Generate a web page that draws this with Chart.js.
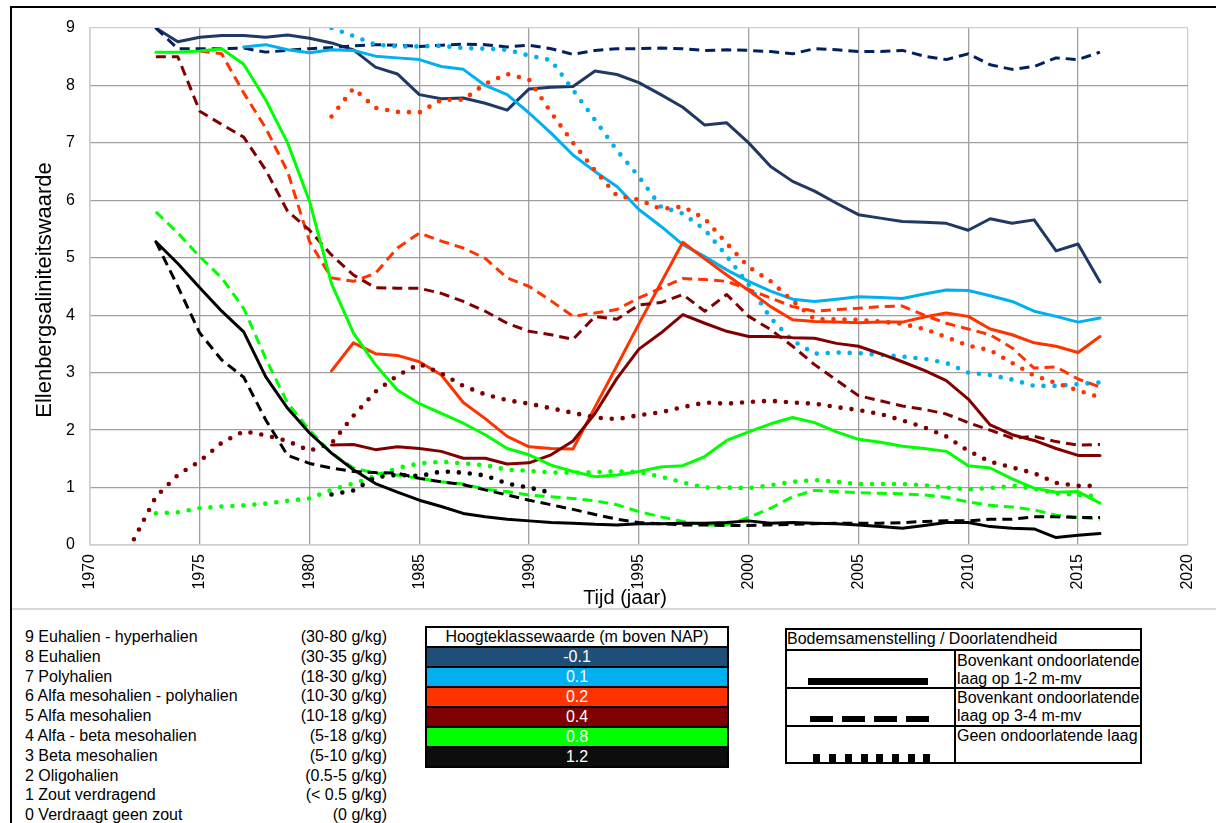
<!DOCTYPE html>
<html>
<head>
<meta charset="utf-8">
<script src="https://cdn.jsdelivr.net/npm/chart.js@4.4.1/dist/chart.umd.min.js"></script>
<style>
html,body{margin:0;padding:0;background:#fff;}
body{width:1216px;height:823px;position:relative;overflow:hidden;font-family:'Liberation Sans',Arial,sans-serif;font-size:16px;color:#000;}
.abs{position:absolute;}
#wrap{position:absolute;left:0;top:0;width:1216px;height:609px;}
.list{line-height:19.8px;white-space:nowrap;}
#hk{background:#000;padding:2px;box-sizing:border-box;}
#hk .r{height:18px;line-height:18px;text-align:center;color:#fff;margin-top:2px;white-space:nowrap;}
#hk .r:first-child{margin-top:0;}
.blk{position:absolute;background:#000;}
.cellTxt{position:absolute;line-height:18px;white-space:nowrap;}
</style>
</head>
<body>
<div id="wrap"><canvas id="c" width="1216" height="609"></canvas></div>

<!-- chart frame -->
<div class="blk" style="left:10px;top:6px;width:2px;height:817px;"></div>
<div class="blk" style="left:10px;top:6px;width:1206px;height:2px;"></div>
<div class="abs" style="left:12px;top:608px;width:1204px;height:2px;background:#d9d9d9;"></div>

<!-- salinity classes -->
<div class="abs list" style="left:25px;top:627px;">
<div>9 Euhalien - hyperhalien</div>
<div>8 Euhalien</div>
<div>7 Polyhalien</div>
<div>6 Alfa mesohalien - polyhalien</div>
<div>5 Alfa mesohalien</div>
<div>4 Alfa - beta mesohalien</div>
<div>3 Beta mesohalien</div>
<div>2 Oligohalien</div>
<div>1 Zout verdragend</div>
<div>0 Verdraagt geen zout</div>
</div>
<div class="abs list" style="left:237px;width:150px;top:627px;text-align:right;">
<div>(30-80 g/kg)</div>
<div>(30-35 g/kg)</div>
<div>(18-30 g/kg)</div>
<div>(10-30 g/kg)</div>
<div>(10-18 g/kg)</div>
<div>(5-18 g/kg)</div>
<div>(5-10 g/kg)</div>
<div>(0.5-5 g/kg)</div>
<div>(&lt; 0.5 g/kg)</div>
<div>(0 g/kg)</div>
</div>

<!-- height class table -->
<div id="hk" class="abs" style="left:425px;top:626px;width:304px;">
<div class="r" style="background:#fff;color:#000;">Hoogteklassewaarde (m boven NAP)</div>
<div class="r" style="background:#1F4E79;">-0.1</div>
<div class="r" style="background:#00B0F0;">0.1</div>
<div class="r" style="background:#FF3300;">0.2</div>
<div class="r" style="background:#7F0000;">0.4</div>
<div class="r" style="background:#00FF00;">0.8</div>
<div class="r" style="background:#0D0D0D;">1.2</div>
</div>

<!-- soil table -->
<div class="abs" style="left:785px;top:628px;width:357px;height:136px;border:2px solid #000;box-sizing:border-box;"></div>
<div class="blk" style="left:785px;top:649px;width:357px;height:2px;"></div>
<div class="blk" style="left:785px;top:687px;width:357px;height:2px;"></div>
<div class="blk" style="left:785px;top:725px;width:357px;height:2px;"></div>
<div class="blk" style="left:954px;top:649px;width:2px;height:115px;"></div>
<div class="cellTxt" style="left:787px;top:629px;line-height:20px;">Bodemsamenstelling / Doorlatendheid</div>
<div class="cellTxt" style="left:957px;top:652px;">Bovenkant ondoorlatende<br>laag op 1-2 m-mv</div>
<div class="cellTxt" style="left:957px;top:689px;">Bovenkant ondoorlatende<br>laag op 3-4 m-mv</div>
<div class="cellTxt" style="left:957px;top:727px;">Geen ondoorlatende laag</div>
<div class="blk" style="left:808px;top:678px;width:120px;height:7px;"></div>
<div class="blk" style="left:810px;top:716px;width:23px;height:6px;"></div>
<div class="blk" style="left:842px;top:716px;width:23px;height:6px;"></div>
<div class="blk" style="left:874px;top:716px;width:23px;height:6px;"></div>
<div class="blk" style="left:906px;top:716px;width:23px;height:6px;"></div>
<div class="blk" style="left:813px;top:754px;width:7px;height:8px;"></div>
<div class="blk" style="left:829px;top:754px;width:7px;height:8px;"></div>
<div class="blk" style="left:845px;top:754px;width:7px;height:8px;"></div>
<div class="blk" style="left:861px;top:754px;width:7px;height:8px;"></div>
<div class="blk" style="left:876px;top:754px;width:7px;height:8px;"></div>
<div class="blk" style="left:892px;top:754px;width:7px;height:8px;"></div>
<div class="blk" style="left:908px;top:754px;width:7px;height:8px;"></div>
<div class="blk" style="left:923px;top:754px;width:7px;height:8px;"></div>

<script>
// ---- data ----
const years = [1972,1973,1974,1975,1976,1977,1978,1979,1980,1981,1982,1983,1984,1985,1986,1987,1988,1989,1990,1991,1992,1993,1994,1995,1996,1997,1998,1999,2000,2001,2002,2003,2004,2005,2006,2007,2008,2009,2010,2011,2012,2013,2014,2015,2016];
const xTickLabels = ['1970','1975','1980','1985','1990','1995','2000','2005','2010','2015','2020'];
const yTickLabels = ['0','1','2','3','4','5','6','7','8','9'];
const xTitle = 'Tijd (jaar)';
const yTitle = 'Ellenbergsaliniteitswaarde';

const navySolid = [null,9.0,8.76,8.84,8.87,8.87,8.84,8.88,8.82,8.74,8.62,8.32,8.2,7.84,7.77,7.78,7.69,7.57,7.94,7.97,7.98,8.25,8.19,8.05,7.84,7.62,7.31,7.35,7.0,6.59,6.33,6.16,5.95,5.75,5.69,5.63,5.62,5.6,5.48,5.68,5.6,5.66,5.12,5.24,4.58];
const navyDashed = [null,9.0,8.64,8.64,8.64,8.65,8.58,8.61,8.64,8.66,8.69,8.71,8.70,8.68,8.70,8.72,8.71,8.67,8.70,8.64,8.54,8.61,8.64,8.64,8.65,8.64,8.61,8.62,8.61,8.59,8.55,8.64,8.62,8.59,8.59,8.61,8.51,8.45,8.55,8.36,8.28,8.33,8.48,8.45,8.58];
const lightBlueSolid = [null,null,null,null,null,8.67,8.71,8.62,8.57,8.62,8.61,8.51,8.48,8.45,8.33,8.28,8.0,7.84,7.52,7.17,6.79,6.5,6.24,5.84,5.55,5.23,5.02,4.79,4.59,4.42,4.28,4.24,4.28,4.32,4.31,4.29,4.37,4.44,4.43,4.34,4.24,4.07,3.98,3.88,3.95];
const lightBlueDotted = [null,null,null,null,null,null,null,null,null,9.0,8.86,8.71,8.68,8.68,8.69,8.65,8.64,8.62,8.52,8.44,7.92,7.4,6.87,6.41,5.89,5.77,5.49,5.03,4.53,3.95,3.56,3.33,3.35,3.34,3.31,3.28,3.24,3.17,3.0,2.96,2.88,2.77,2.77,2.8,2.83];
const orangeSolid = [null,null,null,null,null,null,null,null,null,3.03,3.52,3.33,3.30,3.19,2.96,2.48,2.2,1.89,1.71,1.68,1.67,2.4,3.12,3.85,4.56,5.27,4.98,4.7,4.43,4.15,3.92,3.89,3.88,3.87,3.88,3.88,3.97,4.04,3.98,3.76,3.66,3.52,3.46,3.35,3.63];
const orangeDashed = [null,null,null,8.6,8.55,7.87,7.26,6.5,5.28,4.65,4.59,4.73,5.17,5.43,5.29,5.17,4.99,4.65,4.5,4.25,3.98,4.04,4.1,4.3,4.47,4.64,4.62,4.59,4.45,4.3,4.15,4.07,4.1,4.12,4.15,4.16,4.0,3.86,3.76,3.66,3.43,3.08,3.1,2.89,2.75];
const orangeDotted = [null,null,null,null,null,null,null,null,null,7.46,7.95,7.61,7.54,7.53,7.75,7.75,8.03,8.2,8.1,7.53,7.0,6.52,6.08,6.01,5.85,5.89,5.68,5.25,4.84,4.59,4.25,3.93,3.93,3.92,3.89,3.85,3.76,3.62,3.47,3.39,3.17,2.95,2.82,2.69,2.57];
const maroonSolid = [null,null,null,null,null,null,null,null,null,1.74,1.75,1.66,1.71,1.68,1.63,1.51,1.51,1.41,1.43,1.57,1.81,2.29,2.9,3.41,3.69,4.01,3.86,3.72,3.63,3.63,3.61,3.6,3.51,3.46,3.33,3.19,3.04,2.86,2.54,2.09,1.92,1.82,1.68,1.56,1.56];
const maroonDashed = [null,8.5,8.5,7.55,7.32,7.1,6.53,5.81,5.48,5.05,4.7,4.48,4.47,4.47,4.38,4.24,4.07,3.86,3.72,3.66,3.58,3.98,3.93,4.18,4.22,4.36,4.07,4.36,3.98,3.75,3.46,3.14,2.87,2.6,2.51,2.42,2.36,2.28,2.13,2.0,1.86,1.89,1.8,1.74,1.75];
const maroonDotted = [0.1,0.84,1.22,1.46,1.78,1.98,1.91,1.81,1.64,1.77,2.25,2.67,2.95,3.15,2.99,2.77,2.62,2.52,2.46,2.38,2.3,2.22,2.19,2.26,2.31,2.4,2.48,2.46,2.49,2.51,2.48,2.46,2.4,2.35,2.28,2.17,2.05,1.89,1.64,1.45,1.35,1.25,1.08,1.03,1.03];
const greenSolid = [null,8.58,8.58,8.6,8.64,8.37,7.75,7.0,5.98,4.55,3.69,3.14,2.7,2.46,2.29,2.12,1.92,1.68,1.57,1.39,1.28,1.19,1.22,1.28,1.36,1.38,1.54,1.82,1.97,2.11,2.22,2.13,1.97,1.84,1.79,1.72,1.68,1.63,1.38,1.34,1.15,0.99,0.92,0.93,0.73];
const greenDashed = [null,5.8,5.43,5.02,4.65,4.12,3.25,2.47,2.0,1.6,1.34,1.25,1.22,1.16,1.1,1.06,0.97,0.93,0.87,0.84,0.81,0.77,0.7,0.58,0.49,0.41,0.35,0.35,0.48,0.64,0.84,0.95,0.93,0.91,0.9,0.89,0.87,0.83,0.75,0.69,0.66,0.61,0.52,0.48,0.45];
const greenDotted = [null,0.55,0.57,0.64,0.67,0.69,0.72,0.77,0.81,0.96,1.07,1.2,1.34,1.42,1.45,1.42,1.39,1.31,1.29,1.26,1.26,1.27,1.28,1.27,1.19,1.09,1.0,1.0,0.99,1.04,1.1,1.13,1.1,1.06,1.06,1.06,1.04,1.0,0.97,0.99,1.03,0.98,0.9,0.87,0.85];
const blackSolid = [null,5.28,4.9,4.48,4.07,3.71,2.93,2.38,1.95,1.6,1.31,1.07,0.92,0.78,0.67,0.55,0.49,0.45,0.42,0.39,0.38,0.36,0.35,0.37,0.37,0.38,0.38,0.39,0.42,0.38,0.39,0.38,0.37,0.35,0.32,0.29,0.34,0.39,0.39,0.32,0.29,0.28,0.13,0.17,0.2];
const blackDashed = [null,5.28,4.5,3.69,3.22,2.92,2.18,1.56,1.42,1.34,1.28,1.26,1.25,1.16,1.1,1.05,0.96,0.87,0.78,0.7,0.62,0.53,0.45,0.39,0.37,0.35,0.35,0.34,0.34,0.35,0.36,0.37,0.38,0.38,0.38,0.39,0.41,0.42,0.42,0.45,0.45,0.49,0.49,0.48,0.48];
const blackDotted = [null,null,null,null,null,null,null,null,null,0.88,0.95,1.18,1.22,1.2,1.28,1.26,1.21,1.07,1.0,0.91,null,null,null,null,null,null,null,null,null,null,null,null,null,null,null,null,null,null,null,null,null,null,null,null,null];

// ---- styling ----
const C_NAVY = '#1f3864', C_NAVY2 = '#002060', C_LBLUE = '#00B0F0', C_ORANGE = '#FF3300',
      C_MAROON = '#800000', C_GREEN = '#00FF00', C_BLACK = '#000000';

function mk(label, values, color, style) {
  const ds = {
    label: label,
    data: years.map((yr, i) => ({ x: yr, y: values[i] })),
    borderColor: color,
    backgroundColor: color,
    fill: false,
    pointRadius: 0,
    tension: 0,
    spanGaps: false,
    borderJoinStyle: 'round'
  };
  if (style === 'solid') { ds.borderWidth = 3; ds.borderCapStyle = 'round'; }
  else if (style === 'dash') { ds.borderWidth = 3; ds.borderDash = [10, 6]; ds.borderCapStyle = 'butt'; }
  else { ds.borderWidth = 4.6; ds.borderDash = [0, 11]; ds.borderCapStyle = 'round'; }
  return ds;
}

const datasets = [
  mk('-0.1 1-2 m', navySolid, C_NAVY, 'solid'),
  mk('-0.1 3-4 m', navyDashed, C_NAVY2, 'dash'),
  mk('0.1 1-2 m', lightBlueSolid, C_LBLUE, 'solid'),
  mk('0.1 geen', lightBlueDotted, C_LBLUE, 'dot'),
  mk('0.2 1-2 m', orangeSolid, C_ORANGE, 'solid'),
  mk('0.2 3-4 m', orangeDashed, C_ORANGE, 'dash'),
  mk('0.2 geen', orangeDotted, C_ORANGE, 'dot'),
  mk('0.4 1-2 m', maroonSolid, C_MAROON, 'solid'),
  mk('0.4 3-4 m', maroonDashed, C_MAROON, 'dash'),
  mk('0.4 geen', maroonDotted, C_MAROON, 'dot'),
  mk('0.8 1-2 m', greenSolid, C_GREEN, 'solid'),
  mk('0.8 3-4 m', greenDashed, C_GREEN, 'dash'),
  mk('0.8 geen', greenDotted, C_GREEN, 'dot'),
  mk('1.2 1-2 m', blackSolid, C_BLACK, 'solid'),
  mk('1.2 3-4 m', blackDashed, C_BLACK, 'dash'),
  mk('1.2 geen', blackDotted, C_BLACK, 'dot')
];
datasets.forEach((d, i) => { d.order = datasets.length - i; });

Chart.defaults.font.family = "'Liberation Sans', Arial, sans-serif";
Chart.defaults.font.size = 16;
Chart.defaults.color = '#000';

const GRID = '#a0a0a0', EDGE = '#cfcfcf';

// axis titles drawn at their own positions
const axisTitles = {
  id: 'axisTitles',
  afterDraw(chart) {
    const ctx = chart.ctx;
    ctx.save();
    ctx.fillStyle = '#000';
    ctx.textAlign = 'center';
    ctx.textBaseline = 'middle';
    ctx.font = "20px 'Liberation Sans', Arial, sans-serif";
    ctx.fillText(xTitle, 625, 598);
    ctx.translate(45, 290);
    ctx.rotate(-Math.PI / 2);
    ctx.font = "22px 'Liberation Sans', Arial, sans-serif";
    ctx.fillText(yTitle, 0, 0);
    ctx.restore();
  }
};

new Chart(document.getElementById('c'), {
  type: 'line',
  data: { datasets: datasets },
  plugins: [axisTitles],
  options: {
    responsive: false,
    animation: false,
    events: [],
    layout: { padding: { left: 12, top: 28, right: 28, bottom: 0 } },
    plugins: { legend: { display: false }, tooltip: { enabled: false } },
    scales: {
      x: {
        type: 'linear', min: 1970, max: 2020,
        afterFit: s => { s.height = 64; },
        ticks: {
          stepSize: 5, autoSkip: false, minRotation: 90, maxRotation: 90, padding: 9,
          callback: (v, i) => xTickLabels[i]
        },
        grid: {
          drawTicks: false, lineWidth: 1.3,
          color: ctx => (ctx.tick && ctx.tick.value === 2020) ? EDGE : GRID
        },
        border: { display: true, color: EDGE, width: 1.5 },
        title: { display: false, text: xTitle }
      },
      y: {
        type: 'linear', min: 0, max: 9,
        afterFit: s => { s.width = 78; },
        ticks: { stepSize: 1, padding: 15, callback: (v, i) => yTickLabels[i] },
        grid: {
          drawTicks: false, lineWidth: 1.3,
          color: ctx => (ctx.tick && ctx.tick.value === 9) ? EDGE : GRID
        },
        border: { display: true, color: EDGE, width: 1.5 },
        title: { display: false, text: yTitle }
      }
    }
  }
});
</script>
</body>
</html>
